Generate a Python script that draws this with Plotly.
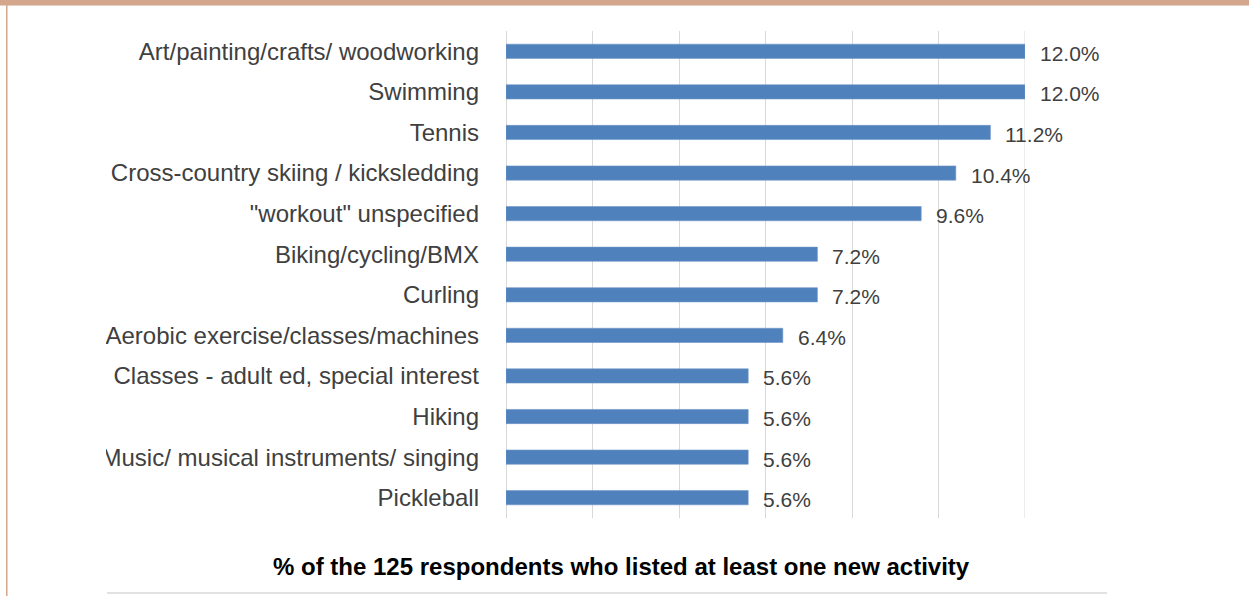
import plotly.graph_objects as go

# Survey results: new activities listed by respondents (share of 125 respondents)
activities = [
    "Art/painting/crafts/ woodworking",
    "Swimming",
    "Tennis",
    "Cross-country skiing / kicksledding",
    "\"workout\" unspecified",
    "Biking/cycling/BMX",
    "Curling",
    "Aerobic exercise/classes/machines",
    "Classes - adult ed, special interest",
    "Hiking",
    "Music/ musical instruments/ singing",
    "Pickleball",
]
percent = [12.0, 12.0, 11.2, 10.4, 9.6, 7.2, 7.2, 6.4, 5.6, 5.6, 5.6, 5.6]
x_ticks = [0, 2, 4, 6, 8, 10, 12]

W, H = 1249, 596
M_L, M_R, M_T, M_B = 506, 224, 31, 78
PW, PH = W - M_L - M_R, H - M_T - M_B
FONT = "Liberation Sans, Arial, sans-serif"


def px_x(p):
    return (p - M_L) / PW


def px_y(p):
    return (H - M_B - p) / PH


fig = go.Figure(
    go.Bar(
        x=percent,
        y=activities,
        orientation="h",
        width=0.35,
        marker=dict(color="#4F81BD", line=dict(color="#6E95C8", width=0.6)),
        hoverinfo="skip",
    )
)

# value labels beside each bar
for cat, val in zip(activities, percent):
    fig.add_annotation(
        x=val, y=cat, xref="x", yref="y",
        text=f"{val:.1f}%", showarrow=False,
        xanchor="left", yanchor="middle", xshift=13, yshift=-2,
        font=dict(family=FONT, size=21, color="#404040"),
    )

# axis caption under the chart
fig.add_annotation(
    x=px_x(621), y=px_y(566), xref="paper", yref="paper",
    text="<b>% of the 125 respondents who listed at least one new activity</b>",
    showarrow=False, xanchor="center", yanchor="middle",
    font=dict(family=FONT, size=24, color="#000000"),
)

shapes = [
    # gridline at the last tick (plotly skips it at the plot edge)
    dict(type="line", xref="x", yref="paper", layer="below",
         x0=x_ticks[-1], x1=x_ticks[-1], y0=0, y1=1,
         line=dict(color="#D9D9D9", width=1)),
    # mask that trims long category labels at the chart's left edge
    dict(type="rect", xref="paper", yref="paper", layer="above",
         x0=px_x(8), x1=px_x(106), y0=px_y(H), y1=px_y(6),
         fillcolor="white", line=dict(width=0)),
    # frame: tan band on top, tan rule on the left
    dict(type="rect", xref="paper", yref="paper", layer="above",
         x0=px_x(0), x1=px_x(W), y0=px_y(5.5), y1=px_y(0),
         fillcolor="#D4A68C", line=dict(width=0)),
    dict(type="rect", xref="paper", yref="paper", layer="above",
         x0=px_x(6), x1=px_x(7.5), y0=px_y(H), y1=px_y(0),
         fillcolor="#D4A68C", line=dict(width=0)),
    # light rule at the bottom
    dict(type="line", xref="paper", yref="paper", layer="above",
         x0=px_x(107), x1=px_x(1107), y0=px_y(593), y1=px_y(593),
         line=dict(color="#D9D9D9", width=1.5)),
]

fig.update_layout(
    width=W, height=H,
    margin=dict(l=M_L, r=M_R, t=M_T, b=M_B, pad=0),
    paper_bgcolor="white", plot_bgcolor="white",
    showlegend=False,
    shapes=shapes,
    xaxis=dict(
        range=[0, 12], tickvals=x_ticks, showticklabels=False,
        showgrid=True, gridcolor="#D9D9D9", gridwidth=1,
        zeroline=True, zerolinecolor="#D9D9D9", zerolinewidth=1,
        showline=False, fixedrange=True,
    ),
    yaxis=dict(
        categoryorder="array", categoryarray=activities,
        autorange="reversed", showgrid=False, zeroline=False, showline=False,
        ticks="", ticklabelstandoff=26,
        tickfont=dict(family=FONT, size=24, color="#404040"),
        fixedrange=True,
    ),
)

fig.write_html("out.html")
